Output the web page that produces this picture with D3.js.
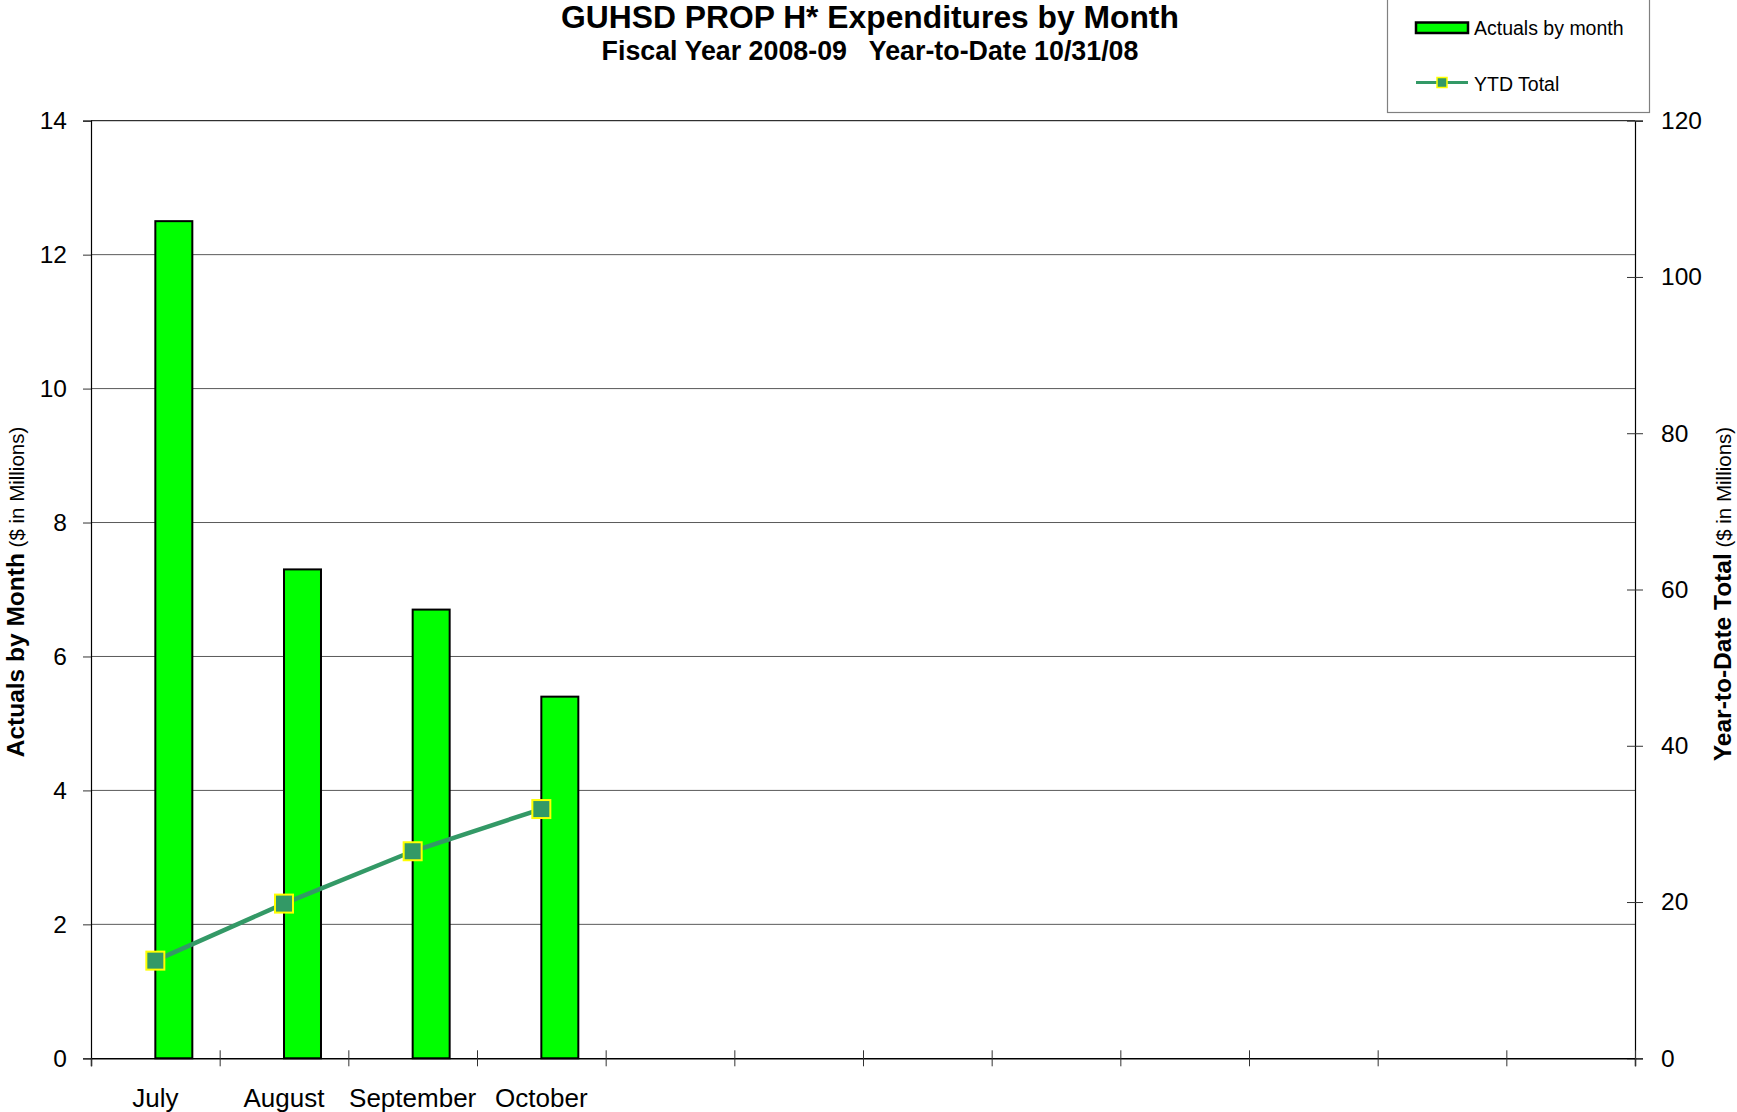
<!DOCTYPE html>
<html>
<head>
<meta charset="utf-8">
<script src="https://cdn.jsdelivr.net/npm/d3@7"></script>
<style>
  html, body { margin: 0; padding: 0; background: #fff; }
  svg { display: block; font-family: "Liberation Sans", Arial, sans-serif; }
</style>
</head>
<body>
<svg id="chart" width="1737" height="1112"></svg>
<script>
// ---- data ----
const categories = ["July", "August", "September", "October", "", "", "", "", "", "", "", ""];
const actualsByMonth = [12.5, 7.3, 6.7, 5.4];
const ytdTotal = [12.5, 19.8, 26.5, 31.9];
const leftTicks = [0, 2, 4, 6, 8, 10, 12, 14];
const rightTicks = [0, 20, 40, 60, 80, 100, 120];
const titleText = "GUHSD PROP H* Expenditures by Month";
const subtitleText = "Fiscal Year 2008-09   Year-to-Date 10/31/08";
const legendLabels = ["Actuals by month", "YTD Total"];

// ---- layout ----
const svg = d3.select("#chart");
const L = 91, R = 1635, T = 120.7, B = 1058.3;

const xBand = d3.scaleBand().domain(d3.range(categories.length)).range([L, R]).padding(0);
const xLin = d3.scaleLinear().domain([0, categories.length]).range([L, R]);
const yL = d3.scaleLinear().domain([0, 14]).range([B, T]);
const yR = d3.scaleLinear().domain([0, 120]).range([B, T]);
const barW = xBand.bandwidth() * 0.2875;

// gridlines
svg.append("g").selectAll("line")
  .data(leftTicks.filter(d => d > 0 && d < 14))
  .join("line")
  .attr("x1", L).attr("x2", R)
  .attr("y1", d => yL(d)).attr("y2", d => yL(d))
  .attr("stroke", "#5a5a5a").attr("stroke-width", 1);

// top border
svg.append("line").attr("x1", L).attr("x2", R).attr("y1", yL(14)).attr("y2", yL(14))
  .attr("stroke", "#000").attr("stroke-width", 1);

// bars
svg.append("g").selectAll("rect")
  .data(actualsByMonth)
  .join("rect")
  .attr("x", (d, i) => xBand(i) + xBand.bandwidth() / 2)
  .attr("y", d => yL(d))
  .attr("width", barW)
  .attr("height", d => yL(0) - yL(d))
  .attr("fill", "#00ff00")
  .attr("stroke", "#000")
  .attr("stroke-width", 2);

// left axis
const gL = svg.append("g").attr("transform", `translate(${L},0)`)
  .call(d3.axisLeft(yL).tickValues(leftTicks).tickSize(8).tickPadding(16));
gL.select(".domain").attr("stroke", "#000").attr("stroke-width", 1.2);
gL.selectAll(".tick line").attr("stroke", "#333");
gL.selectAll(".tick text").attr("font-size", 24.5).attr("fill", "#000")
  .attr("font-family", "Liberation Sans, Arial, sans-serif");

// right axis
const gR = svg.append("g").attr("transform", `translate(${R},0)`)
  .call(d3.axisRight(yR).tickValues(rightTicks).tickSize(8).tickPadding(18));
gR.select(".domain").attr("stroke", "#000").attr("stroke-width", 1.2);
gR.selectAll(".tick line").attr("x1", -8).attr("stroke", "#333");
gR.selectAll(".tick text").attr("font-size", 24.5).attr("fill", "#000")
  .attr("font-family", "Liberation Sans, Arial, sans-serif");

// bottom axis (ticks at category boundaries)
const gB = svg.append("g").attr("transform", `translate(0,${B})`)
  .call(d3.axisBottom(xLin).tickValues(d3.range(categories.length + 1)).tickSize(8).tickFormat(""));
gB.select(".domain").attr("stroke", "#000").attr("stroke-width", 1.5);
gB.selectAll(".tick line").attr("y1", d => d === 0 ? 0 : -8).attr("stroke", "#333");

// category labels
const gBL = svg.append("g").attr("transform", `translate(0,${B})`)
  .call(d3.axisBottom(xBand).tickSize(0).tickPadding(30).tickFormat(i => categories[i]));
gBL.select(".domain").remove();
gBL.selectAll(".tick text").attr("font-size", 26).attr("fill", "#000")
  .attr("font-family", "Liberation Sans, Arial, sans-serif");

// YTD line
const lineColor = "#339966";
const line = d3.line()
  .x((d, i) => xBand(i) + xBand.bandwidth() / 2)
  .y(d => yR(d));
svg.append("path").datum(ytdTotal)
  .attr("d", line)
  .attr("fill", "none")
  .attr("stroke", lineColor)
  .attr("stroke-width", 4.5);

const mk = 18;
svg.append("g").selectAll("rect")
  .data(ytdTotal)
  .join("rect")
  .attr("x", (d, i) => xBand(i) + xBand.bandwidth() / 2 - mk / 2)
  .attr("y", d => yR(d) - mk / 2)
  .attr("width", mk).attr("height", mk)
  .attr("fill", lineColor)
  .attr("stroke", "#ffff00")
  .attr("stroke-width", 2);

// titles
svg.append("text").attr("x", 870).attr("y", 27.5)
  .attr("text-anchor", "middle").attr("font-size", 31.8).attr("font-weight", "bold")
  .text(titleText);
svg.append("text").attr("x", 870).attr("y", 60)
  .attr("text-anchor", "middle").attr("font-size", 26.8).attr("font-weight", "bold")
  .style("white-space", "pre")
  .text(subtitleText);

// axis titles
const lt = svg.append("text").attr("transform", "translate(24,592) rotate(-90)")
  .attr("text-anchor", "middle");
lt.append("tspan").attr("font-size", 24.5).attr("font-weight", "bold").text("Actuals by Month");
lt.append("tspan").attr("font-size", 20.5).text(" ($ in Millions)");

const rt = svg.append("text").attr("transform", "translate(1731,594) rotate(-90)")
  .attr("text-anchor", "middle");
rt.append("tspan").attr("font-size", 24.5).attr("font-weight", "bold").text("Year-to-Date Total");
rt.append("tspan").attr("font-size", 20.5).text(" ($ in Millions)");

// legend
const lg = svg.append("g");
lg.append("rect").attr("x", 1387.5).attr("y", -2).attr("width", 262).attr("height", 114.5)
  .attr("fill", "#fff").attr("stroke", "#808080").attr("stroke-width", 1.2);
lg.append("rect").attr("x", 1416).attr("y", 22.5).attr("width", 52).attr("height", 10.5)
  .attr("fill", "#00ff00").attr("stroke", "#000").attr("stroke-width", 2.5);
lg.append("text").attr("x", 1474).attr("y", 34.5).attr("font-size", 19.5).text(legendLabels[0]);
lg.append("line").attr("x1", 1416).attr("x2", 1468).attr("y1", 82.5).attr("y2", 82.5)
  .attr("stroke", lineColor).attr("stroke-width", 3);
lg.append("rect").attr("x", 1442 - 5).attr("y", 82.5 - 5).attr("width", 10).attr("height", 10)
  .attr("fill", lineColor).attr("stroke", "#ffff00").attr("stroke-width", 1.5);
lg.append("text").attr("x", 1474).attr("y", 90.5).attr("font-size", 19.5).text(legendLabels[1]);
</script>
</body>
</html>
